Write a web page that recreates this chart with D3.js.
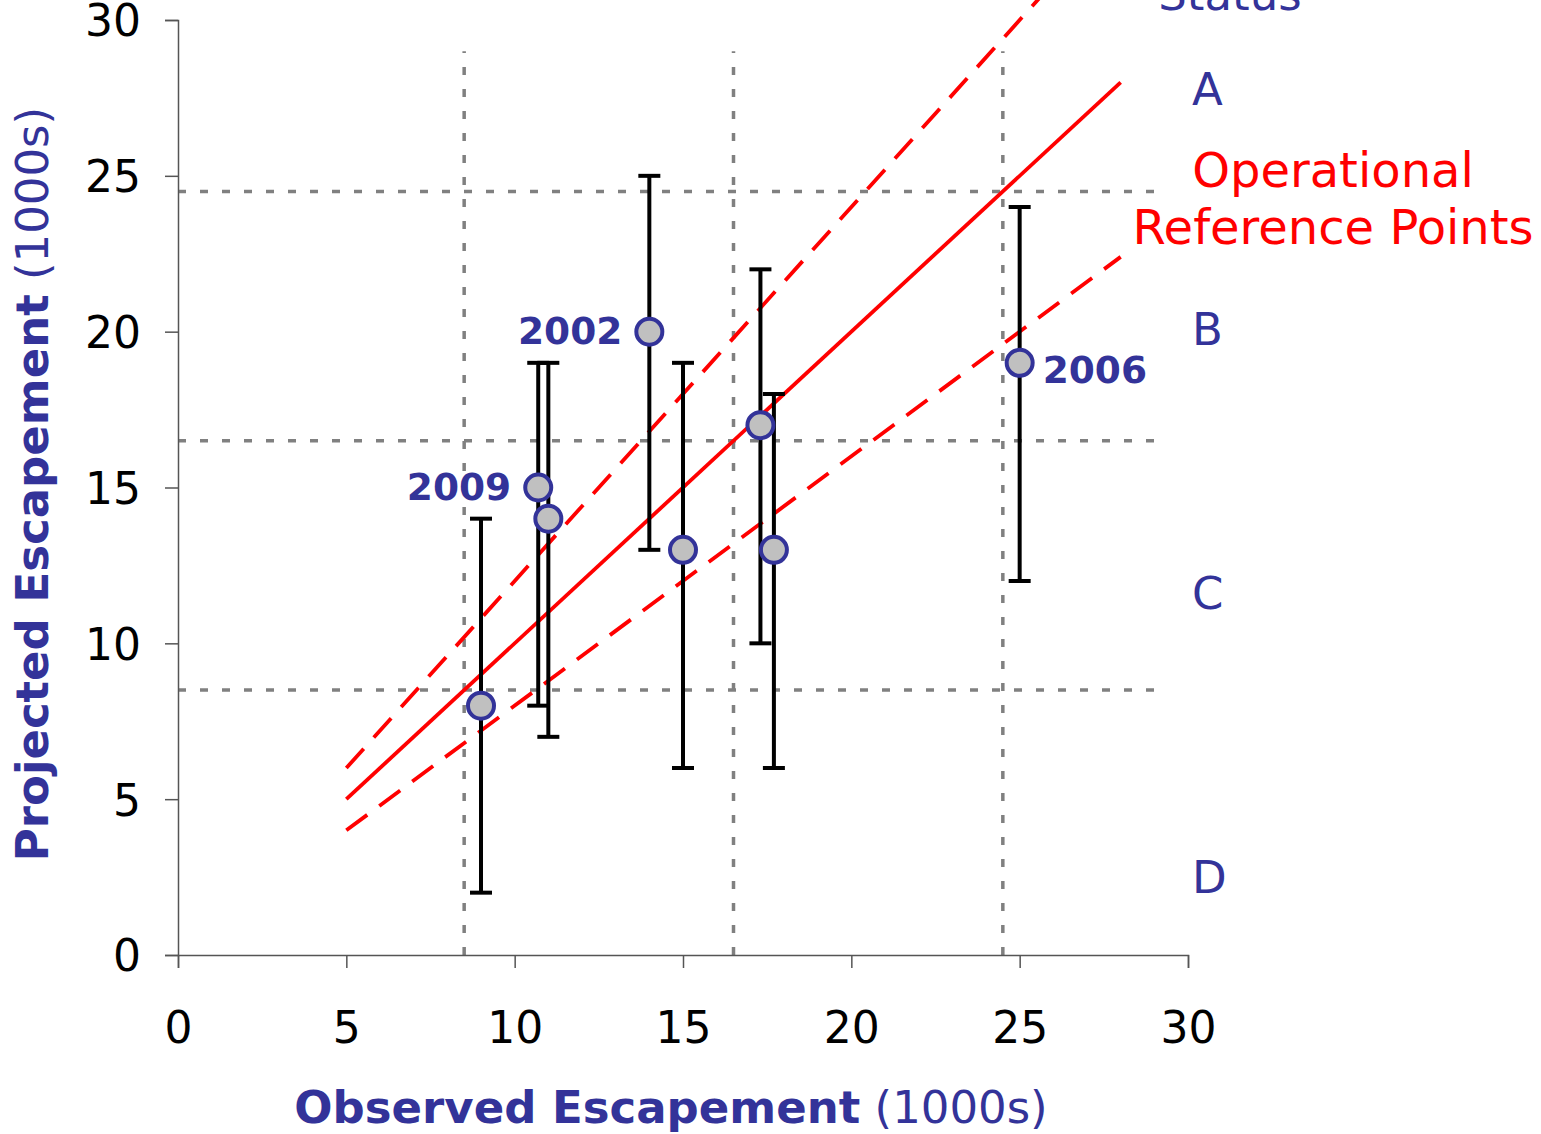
<!DOCTYPE html>
<html>
<head>
<meta charset="utf-8">
<script src="https://cdn.jsdelivr.net/npm/d3@7"></script>
<style>
  body { margin: 0; background: #fff; }
  text { font-family: "DejaVu Sans", Verdana, sans-serif; }
</style>
</head>
<body>
<svg id="chart" width="1541" height="1134"></svg>
<script>
// observed vs projected escapement (1000s)
const observed = [9, 10.7, 11, 14, 15, 17.3, 17.7, 25];
const projected = [8, 15, 14, 20, 13, 17, 13, 19];
const lower = [2, 8, 7, 13, 6, 10, 6, 12];
const upper = [14, 19, 19, 25, 19, 22, 18, 24];
const yearLabels = ['', '2009', '', '2002', '', '', '', '2006'];

const refLines = [0.8, 1, 1.2]; // slopes of reference lines
const refRange = [5, 28];
const statusThresholds = [8.5, 16.5, 24.5];
const statusNames = ['A', 'B', 'C', 'D'];
const statusY = [27.8, 20.1, 11.6, 2.5];
const ticks = [0, 5, 10, 15, 20, 25, 30];

const blue = '#333399';
const svg = d3.select('#chart');
const margin = {left: 178, top: 20, right: 1188, bottom: 955};

const x = d3.scaleLinear().domain([0, 30]).range([margin.left, margin.right]);
const y = d3.scaleLinear().domain([0, 30]).range([margin.bottom, margin.top]);

// threshold grid
const grid = svg.append('g')
  .attr('stroke', '#808080')
  .attr('stroke-width', 3.5)
  .attr('stroke-dasharray', '8,14');
grid.selectAll('.vg').data(statusThresholds).enter().append('line')
  .attr('x1', d => x(d)).attr('x2', d => x(d))
  .attr('y1', y(0)).attr('y2', y(29));
grid.selectAll('.hg').data(statusThresholds).enter().append('line')
  .attr('x1', x(0)).attr('x2', x(29))
  .attr('y1', d => y(d)).attr('y2', d => y(d));

// axes
const xAxis = svg.append('g')
  .attr('transform', `translate(0,${margin.bottom})`)
  .call(d3.axisBottom(x).tickValues(ticks).tickSize(13).tickPadding(44));
const yAxis = svg.append('g')
  .attr('transform', `translate(${margin.left},0)`)
  .call(d3.axisLeft(y).tickValues(ticks).tickSize(13).tickPadding(24));
[xAxis, yAxis].forEach(a => {
  a.select('.domain').attr('stroke', '#555').attr('stroke-width', 1.5);
  a.selectAll('.tick line').attr('stroke', '#555').attr('stroke-width', 1.5);
  a.selectAll('.tick text').attr('font-size', 44).attr('fill', '#000')
    .attr('font-family', '"DejaVu Sans", Verdana, sans-serif');
});
xAxis.selectAll('.tick text').attr('dy', '0.71em');
yAxis.selectAll('.tick text').attr('dy', '0.36em');

// reference lines
const line = d3.line().x(d => x(d[0])).y(d => y(d[1]));
svg.selectAll('.ref').data(refLines).enter().append('path')
  .attr('d', s => line(refRange.map(v => [v, v * s])))
  .attr('fill', 'none')
  .attr('stroke', 'red')
  .attr('stroke-width', 3.8)
  .attr('stroke-dasharray', s => s === 1 ? null : '26,15');

// error bars
const bars = svg.append('g').attr('stroke', '#000').attr('stroke-width', 4);
observed.forEach((o, i) => {
  bars.append('line').attr('x1', x(o)).attr('x2', x(o)).attr('y1', y(lower[i])).attr('y2', y(upper[i]));
  [lower[i], upper[i]].forEach(v => {
    bars.append('line').attr('x1', x(o) - 11).attr('x2', x(o) + 11).attr('y1', y(v)).attr('y2', y(v));
  });
});

// points
svg.selectAll('.pt').data(observed).enter().append('circle')
  .attr('cx', d => x(d))
  .attr('cy', (d, i) => y(projected[i]))
  .attr('r', 13)
  .attr('fill', '#c0c0c0')
  .attr('stroke', blue)
  .attr('stroke-width', 4);

// year labels
const labelled = d3.range(observed.length).filter(i => yearLabels[i] !== '');
svg.selectAll('.yr').data(labelled).enter().append('text')
  .attr('x', i => i === 7 ? x(observed[i]) + 23 : x(observed[i]) - 27)
  .attr('y', i => y(projected[i]) + (i === 7 ? 20 : 12))
  .attr('text-anchor', i => i === 7 ? 'start' : 'end')
  .attr('font-size', 37.5)
  .attr('font-weight', 'bold')
  .attr('fill', blue)
  .text(i => yearLabels[i]);

// status labels
svg.append('text').attr('x', 1230).attr('y', 10).attr('text-anchor', 'middle')
  .attr('font-size', 45).attr('fill', blue).text('Status');
svg.selectAll('.st').data(statusNames).enter().append('text')
  .attr('x', 1192)
  .attr('y', (d, i) => y(statusY[i]) + 16)
  .attr('font-size', 45)
  .attr('fill', blue)
  .text(d => d);

const orp = svg.append('text').attr('text-anchor', 'middle').attr('font-size', 48).attr('fill', 'red');
orp.append('tspan').attr('x', 1333).attr('y', 187).text('Operational');
orp.append('tspan').attr('x', 1333).attr('y', 244).text('Reference Points');

// axis titles
const xt = svg.append('text').attr('x', 671).attr('y', 1123).attr('text-anchor', 'middle')
  .attr('font-size', 45).attr('fill', blue);
xt.append('tspan').attr('font-weight', 'bold').text('Observed Escapement');
xt.append('tspan').text(' (1000s)');

const yt = svg.append('text').attr('transform', 'translate(48,484) rotate(-90)').attr('text-anchor', 'middle')
  .attr('font-size', 45).attr('fill', blue);
yt.append('tspan').attr('font-weight', 'bold').text('Projected Escapement');
yt.append('tspan').text(' (1000s)');
</script>
</body>
</html>
